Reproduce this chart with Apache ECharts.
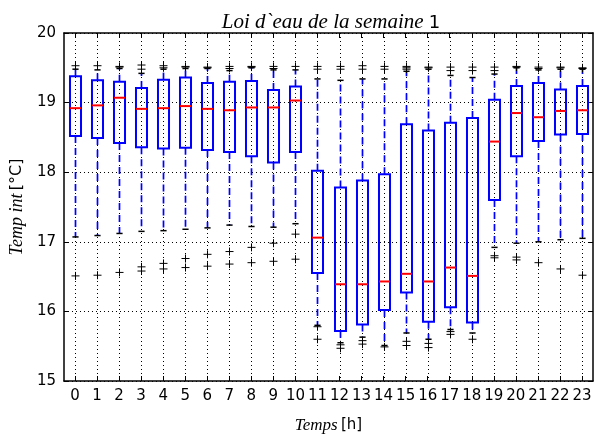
<!DOCTYPE html>
<html>
<head>
<meta charset="utf-8">
<script src="https://cdn.jsdelivr.net/npm/echarts@6/dist/echarts.min.js"></script>
<style>
html,body{margin:0;padding:0;background:#fff;}
#chart{width:598px;height:439px;}
</style>
</head>
<body>
<div id="chart"></div>
<script>
const categories = ['0','1','2','3','4','5','6','7','8','9','10','11','12','13','14','15','16','17','18','19','20','21','22','23'];
const whiskerLow  = [17.07,17.09,17.12,17.15,17.16,17.18,17.20,17.24,17.22,17.21,17.26,15.80,15.55,15.63,15.51,15.69,15.60,15.74,15.69,16.92,16.98,17.00,17.03,17.05];
const quartile1   = [18.52,18.49,18.42,18.36,18.34,18.35,18.32,18.29,18.23,18.14,18.29,16.55,15.72,15.81,16.02,16.27,15.85,16.06,15.84,17.60,18.23,18.45,18.54,18.55];
const medianVals  = [18.92,18.96,19.07,18.91,18.92,18.95,18.91,18.89,18.93,18.93,19.03,17.06,16.39,16.39,16.43,16.54,16.43,16.63,16.51,18.44,18.85,18.79,18.88,18.89];
const quartile3   = [19.38,19.32,19.30,19.21,19.33,19.36,19.28,19.30,19.31,19.18,19.23,18.02,17.78,17.88,17.97,18.69,18.60,18.71,18.78,19.04,19.24,19.28,19.19,19.24];
const whiskerHigh = [19.48,19.47,19.49,19.42,19.48,19.49,19.49,19.46,19.50,19.47,19.47,19.34,19.32,19.34,19.34,19.45,19.48,19.39,19.36,19.41,19.50,19.47,19.48,19.48];
const outliers = [
  [19.53,16.51],
  [19.53,16.52],
  [19.51,19.52,16.56],
  [19.48,19.54,16.64,16.58],
  [19.50,19.53,16.69,16.61],
  [19.51,19.52,16.76,16.63],
  [19.50,19.51,16.82,16.65],
  [19.49,19.52,16.86,16.68],
  [19.51,19.52,16.92,16.70],
  [19.49,19.52,16.98,16.72],
  [19.52,17.11,16.75],
  [19.48,19.52,15.78,15.60],
  [19.48,19.52,15.52,15.47],
  [19.48,19.53,15.58,15.53],
  [19.48,19.52,15.49],
  [19.48,19.50,19.52,15.57,15.51],
  [19.50,19.51,15.54,15.48],
  [19.46,19.51,15.71,15.67],
  [19.46,19.51,15.60],
  [19.46,19.51,16.80,16.77],
  [19.51,19.52,16.78,16.74],
  [19.49,19.51,16.70],
  [19.50,19.51,16.61],
  [19.49,19.50,16.52]
];
const yTicks = {min:15, max:20, step:1};

const boxData = categories.map((c,i)=>[i, whiskerLow[i], quartile1[i], medianVals[i], quartile3[i], whiskerHigh[i]]);
const flierData = [];
outliers.forEach((list,i)=>list.forEach(v=>flierData.push([i,v])));

function renderBox(params, api){
  const i = api.value(0);
  const lo = api.coord([i, api.value(1)]);
  const b1 = api.coord([i, api.value(2)]);
  const md = api.coord([i, api.value(3)]);
  const b3 = api.coord([i, api.value(4)]);
  const hi = api.coord([i, api.value(5)]);
  const bw = api.size([1,0])[0];
  const hw = bw*0.25, cw = bw*0.14;
  const cs = params.coordSys;
  const x = Math.round(lo[0]) + 0.5;
  const dotted = {stroke:'#000', lineWidth:1, lineDash:[1,3]};
  const wh = {stroke:'#0000ff', lineWidth:1.7, lineDash:[7,5]};
  return {type:'group', children:[
    {type:'line', shape:{x1:x,y1:cs.y,x2:x,y2:cs.y+cs.height}, style:dotted},
    {type:'line', shape:{x1:x,y1:b1[1],x2:x,y2:lo[1]}, style:wh},
    {type:'line', shape:{x1:x,y1:b3[1],x2:x,y2:hi[1]}, style:wh},
    {type:'line', shape:{x1:x-cw,y1:lo[1],x2:x+cw,y2:lo[1]}, style:{stroke:'#000', lineWidth:1.5}},
    {type:'line', shape:{x1:x-cw,y1:hi[1],x2:x+cw,y2:hi[1]}, style:{stroke:'#000', lineWidth:1.5}},
    {type:'rect', shape:{x:x-hw,y:b3[1],width:2*hw,height:b1[1]-b3[1]}, style:{fill:'none', stroke:'#0000ff', lineWidth:2}},
    {type:'line', shape:{x1:x-hw,y1:md[1],x2:x+hw,y2:md[1]}, style:{stroke:'#ff0000', lineWidth:2}}
  ]};
}
function renderFlier(params, api){
  const p = api.coord([api.value(0), api.value(1)]);
  const x = Math.round(p[0]) + 0.5, y = p[1], s = 4;
  const st = {stroke:'#000', lineWidth:1};
  return {type:'group', children:[
    {type:'line', shape:{x1:x-s,y1:y,x2:x+s,y2:y}, style:st},
    {type:'line', shape:{x1:x,y1:y-s,x2:x,y2:y+s}, style:st}
  ]};
}

const chart = echarts.init(document.getElementById('chart'), null, {renderer:'canvas'});
const serifI = {fontFamily:'Liberation Serif', fontStyle:'italic', color:'#000'};
const sans = {fontFamily:'DejaVu Sans', color:'#000'};
chart.setOption({
  backgroundColor:'#fff',
  animation:false,
  grid:{left:61, right:5, top:33, bottom:51},
  graphic:[{
    type:'text', x:331, y:21,
    style:{text:'{i|Loi d`eau de la semaine }{n|1}', align:'center', verticalAlign:'middle',
      rich:{i:Object.assign({fontSize:21, lineHeight:24, verticalAlign:'bottom'}, serifI),
            n:Object.assign({fontSize:18, lineHeight:24, verticalAlign:'bottom', padding:[0,0,1,0]}, sans)}}
  }],
  xAxis:[{
    type:'category', data:categories, boundaryGap:true, position:'bottom',
    name:'{i|Temps} {n|[h]}', nameLocation:'middle', nameGap:36,
    nameTextStyle:{rich:{i:Object.assign({fontSize:17}, serifI), n:Object.assign({fontSize:15}, sans)}},
    axisLine:{show:true, onZero:false, lineStyle:{color:'#000', width:1.5}},
    axisTick:{show:true, inside:true, alignWithLabel:true, length:5, lineStyle:{color:'#000'}},
    axisLabel:{interval:0, margin:8, fontSize:15, fontFamily:'DejaVu Sans', color:'#000'},
    splitLine:{show:false}
  },{
    type:'category', data:categories, boundaryGap:true, position:'top',
    axisLine:{show:true, onZero:false, lineStyle:{color:'#000', width:1.5}},
    axisTick:{show:true, inside:true, alignWithLabel:true, length:5, lineStyle:{color:'#000'}},
    axisLabel:{show:false}, splitLine:{show:false}
  }],
  yAxis:[{
    type:'value', min:yTicks.min, max:yTicks.max, interval:yTicks.step, position:'left',
    name:'{i|Temp int} {n|[°C]}', nameLocation:'middle', nameGap:33, nameRotate:90,
    nameTextStyle:{rich:{i:Object.assign({fontSize:18}, serifI), n:Object.assign({fontSize:16}, sans)}},
    axisLine:{show:true, lineStyle:{color:'#000', width:1.5}},
    axisTick:{show:true, inside:true, length:5, lineStyle:{color:'#000'}},
    axisLabel:{margin:8, fontSize:15, fontFamily:'DejaVu Sans', color:'#000'},
    splitLine:{show:true, lineStyle:{color:'#000', width:1, type:[1,3]}}
  },{
    type:'value', min:yTicks.min, max:yTicks.max, interval:yTicks.step, position:'right',
    axisLine:{show:true, lineStyle:{color:'#000', width:1.5}},
    axisTick:{show:true, inside:true, length:5, lineStyle:{color:'#000'}},
    axisLabel:{show:false}, splitLine:{show:false}
  }],
  series:[{
    type:'custom', renderItem:renderBox, data:boxData, xAxisIndex:0, yAxisIndex:0,
    encode:{x:0, y:[1,2,3,4,5]}, clip:true, z:2
  },{
    type:'custom', renderItem:renderFlier, data:flierData, xAxisIndex:0, yAxisIndex:0,
    encode:{x:0, y:1}, clip:true, z:3
  }]
});
</script>
</body>
</html>
